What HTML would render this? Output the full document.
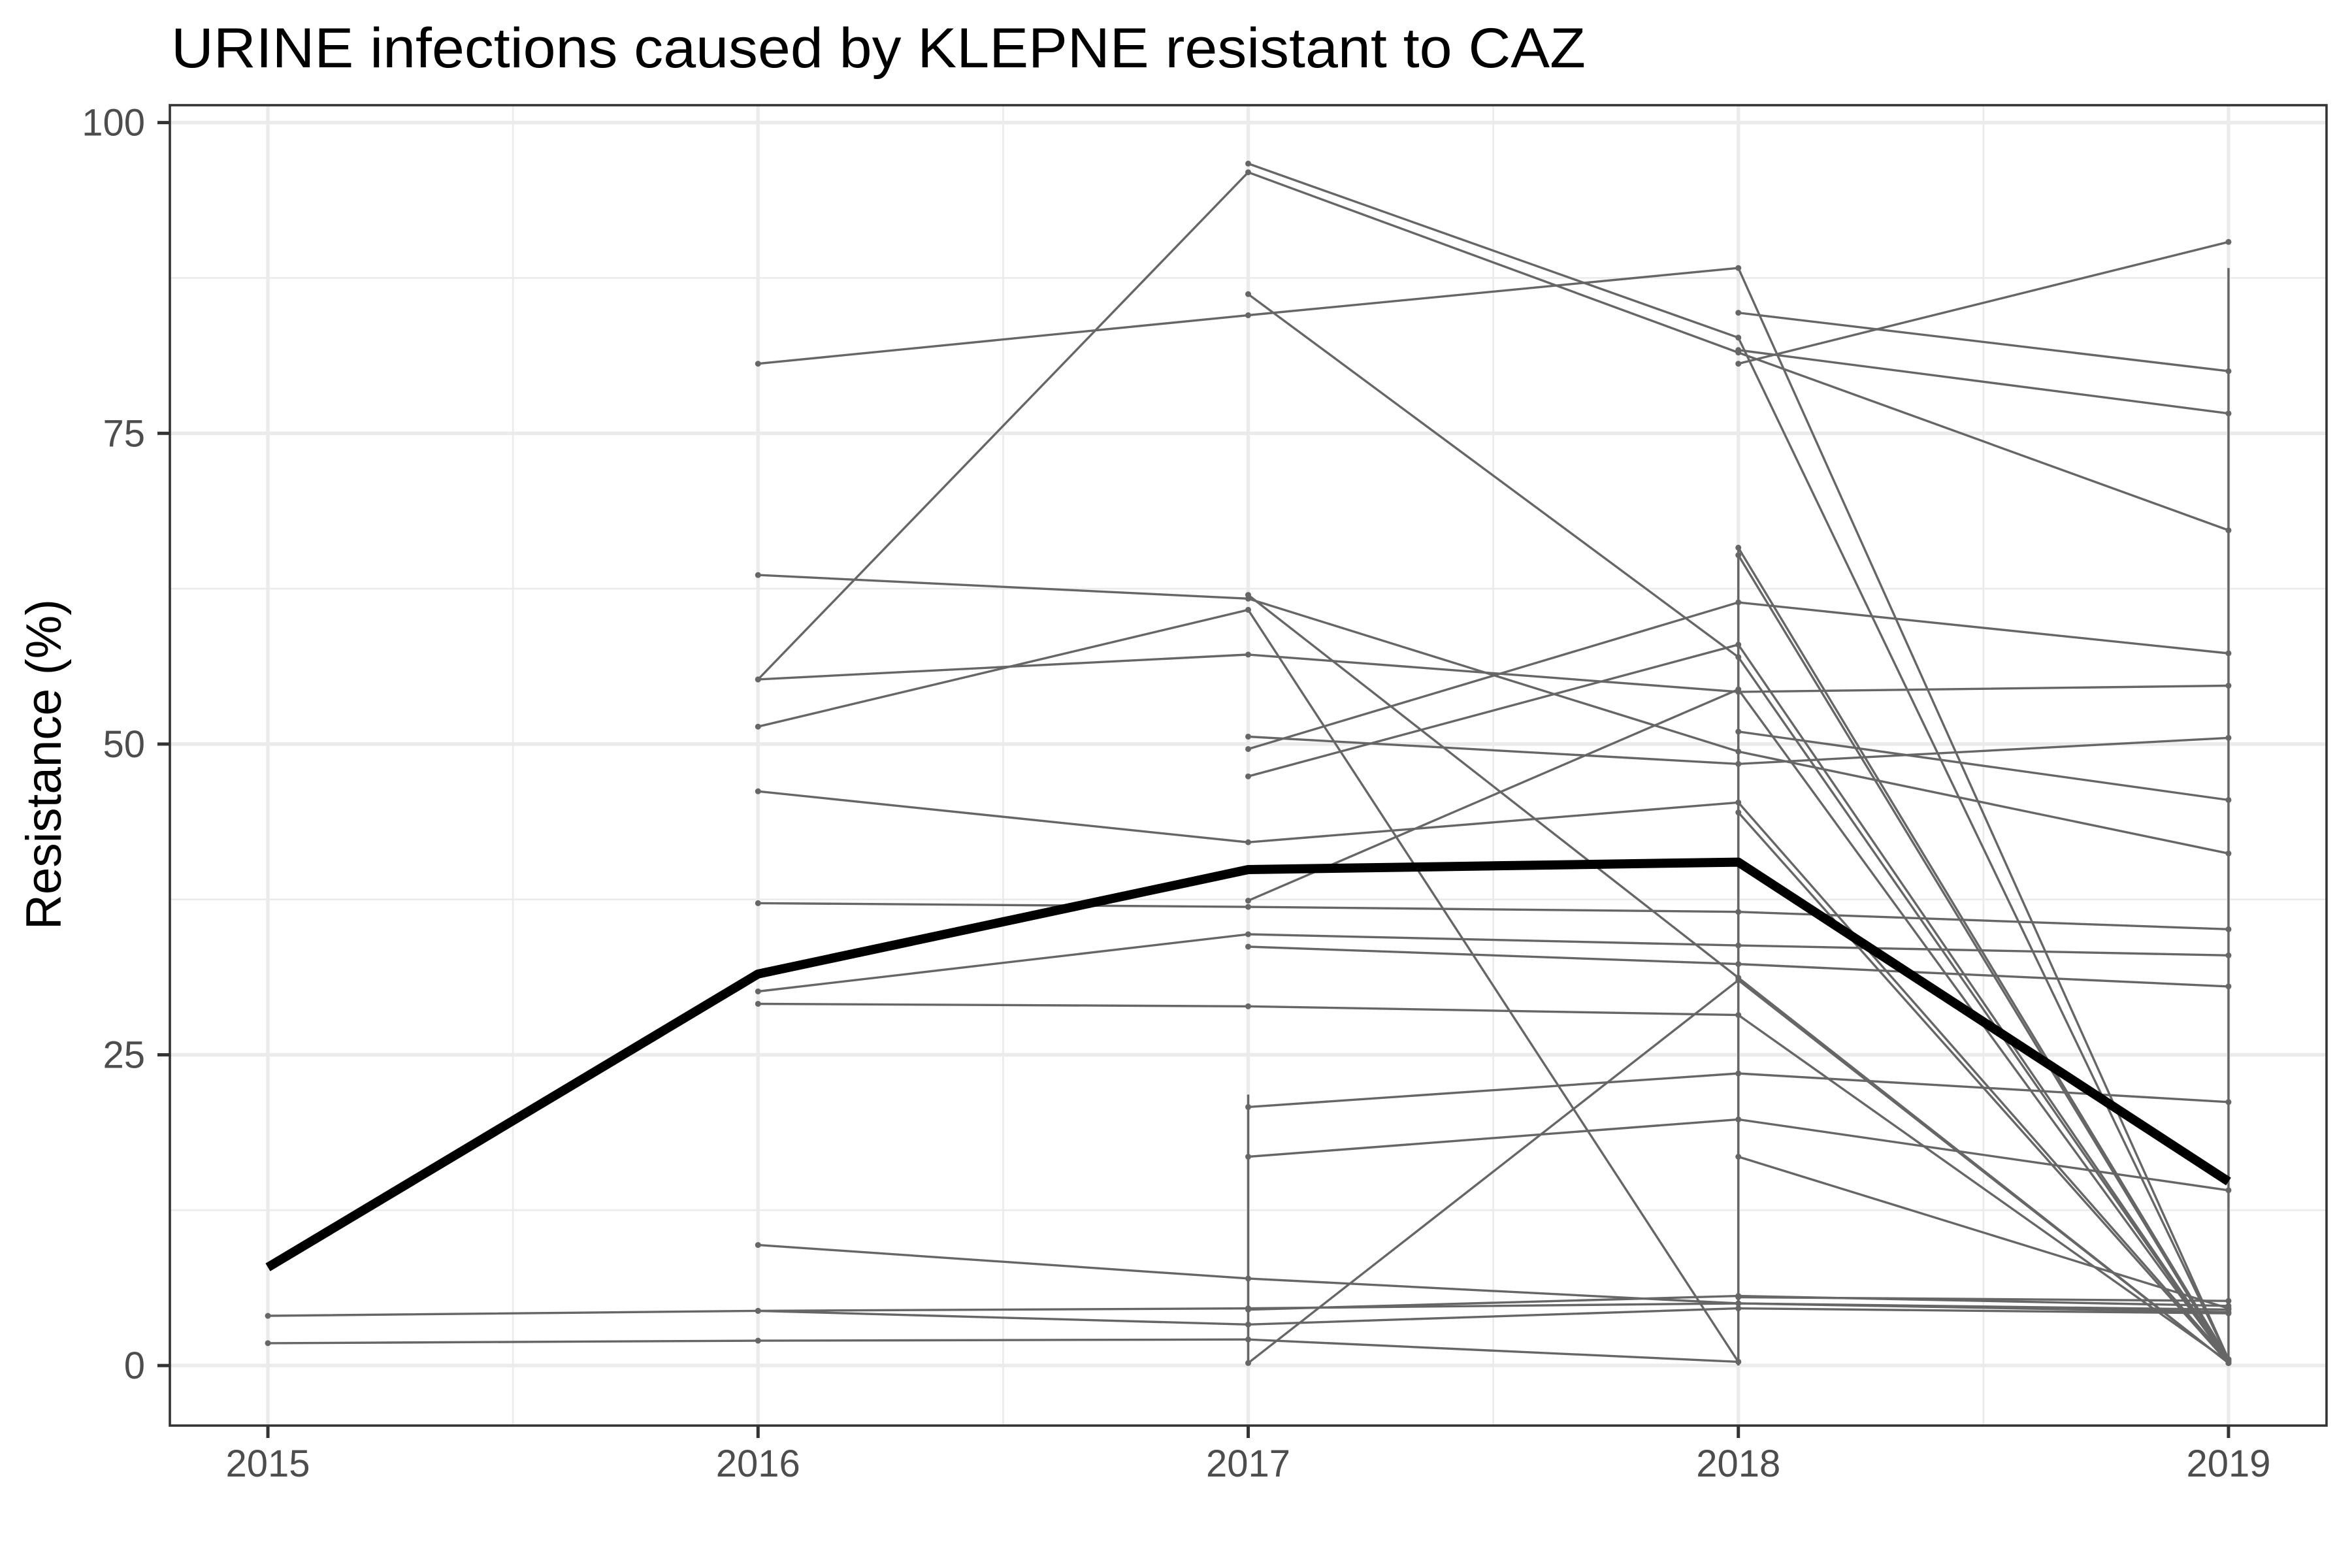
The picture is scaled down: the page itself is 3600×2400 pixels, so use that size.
<!DOCTYPE html>
<html><head><meta charset="utf-8">
<style>
html,body{margin:0;padding:0;background:#fff;}
svg{display:block;font-family:"Liberation Sans",Arial,sans-serif;}
</style></head>
<body>
<svg id="chart" width="3600" height="2400" viewBox="0 0 3600 2400" xmlns="http://www.w3.org/2000/svg">
<rect x="0" y="0" width="3600" height="2400" fill="#fff"/>
<text x="262" y="103" font-size="86" fill="#000" textLength="2165" lengthAdjust="spacingAndGlyphs">URINE infections caused by KLEPNE resistant to CAZ</text>
<text transform="translate(93,1170) rotate(-90)" text-anchor="middle" font-size="76" fill="#000" textLength="506" lengthAdjust="spacingAndGlyphs">Resistance (%)</text>
<g id="grid"></g>
<g id="series"></g>
<g id="axes"></g>
</svg>
<script>
const years = [2015, 2016, 2017, 2018, 2019];
const yTicks = [0, 25, 50, 75, 100];
const yTickLabels = ["0", "25", "50", "75", "100"];
const xTickLabels = ["2015", "2016", "2017", "2018", "2019"];
const meanValues = [7.9, 31.5, 39.9, 40.5, 14.8];
const s01 = [4.0, 4.4, 4.6, 5.0, 4.5];
const s02 = [1.8, 2.0, 2.1, 0.3, null];
const s03 = [null, 80.6, 84.5, 88.3, 0.5];
const s04 = [null, 55.2, 96.0, 81.5, 67.2];
const s05 = [null, null, 96.7, 82.7, 0.5];
const s06 = [null, null, null, 84.7, 80.0];
const s07 = [null, null, null, 80.6, 90.4];
const s08 = [null, null, null, 81.7, 76.6];
const s09 = [null, null, 86.2, 57.0, 0.3];
const s10 = [null, 63.6, 61.7, 49.4, 41.2];
const s11 = [null, 51.4, 60.8, 0.3, null];
const s12 = [null, null, 62.0, 31.2, 0.2];
const s13 = [null, 55.2, 57.2, 54.2, 54.7];
const s14 = [null, 46.2, 42.1, 45.3, 0.4];
const s15 = [null, 37.2, 36.9, 36.5, 35.1];
const s16 = [null, 30.1, 34.7, 33.8, 33.0];
const s17 = [null, 29.1, 28.9, 28.2, 0.3];
const s18 = [null, 9.7, 7.0, 5.0, 4.3];
const s19 = [null, null, 33.7, 32.3, 30.5];
const s20 = [null, null, 50.6, 48.4, 50.5];
const s21 = [null, null, 49.6, 61.4, 57.3];
const s22 = [null, null, 47.4, 58.0, 0.4];
const s23 = [null, null, 37.4, 54.4, 0.3];
const s24 = [null, null, 20.8, 23.5, 21.2];
const s25 = [null, null, 16.8, 19.8, 14.1];
const s26 = [null, null, 0.2, 31.0, 0.2];
const s27 = [null, null, null, 65.8, 0.5];
const s28 = [null, null, null, 65.2, 0.3];
const s29 = [null, null, null, 51.0, 45.5];
const s30 = [null, null, null, 44.5, 0.2];
const s31 = [null, null, null, 16.8, 4.6];
const s32 = [null, null, null, 5.5, 5.2];
const s33 = [null, 4.4, 3.3, 4.6, 4.2];
const s34 = [null, null, 4.5, 5.6, 4.8];
const greySeries = [s01,s02,s03,s04,s05,s06,s07,s08,s09,s10,s11,s12,s13,s14,s15,s16,s17,s18,s19,s20,s21,s22,s23,s24,s25,s26,s27,s28,s29,s30,s31,s32,s33,s34];
const clusterYears = [2017, 2018, 2019];
const clusterLow = [0, 0, 0];
const clusterHigh = [21.8, 66.0, 88.3];

const NS = "http://www.w3.org/2000/svg";
const PL = 260, PR = 3561, PT = 161, PB = 2182;
const xMin = 2014.8, xMax = 2019.2, yMin = -4.83, yMax = 101.4;
const GREY_W = 3.4, MEAN_W = 14;
function xs(v){ return PL + (v - xMin) / (xMax - xMin) * (PR - PL); }
function ys(v){ return PB - (v - yMin) / (yMax - yMin) * (PB - PT); }
function mk(tag, attrs, parent){ const e = document.createElementNS(NS, tag); for (const k in attrs) e.setAttribute(k, attrs[k]); parent.appendChild(e); return e; }

const grid = document.getElementById('grid');
const ser = document.getElementById('series');
const axes = document.getElementById('axes');

for (let i = 0; i < yTicks.length - 1; i++) {
  const v = (yTicks[i] + yTicks[i+1]) / 2;
  const l = mk('line', {x1:PL, x2:PR, y1:ys(v), y2:ys(v), stroke:'#EBEBEB', 'stroke-width':2.7}, grid);
  
  
}
for (let i = 0; i < years.length - 1; i++) {
  const v = (years[i] + years[i+1]) / 2;
  const l = mk('line', {x1:xs(v), x2:xs(v), y1:PT, y2:PB, stroke:'#EBEBEB', 'stroke-width':2.7}, grid);
  
  
}
yTicks.forEach(v => {
  const l = mk('line', {x1:PL, x2:PR, y1:ys(v), y2:ys(v), stroke:'#EBEBEB', 'stroke-width':5.4}, grid);
  
  
});
years.forEach(v => {
  const l = mk('line', {x1:xs(v), x2:xs(v), y1:PT, y2:PB, stroke:'#EBEBEB', 'stroke-width':5.4}, grid);
  
  
});

clusterYears.forEach((yr, i) => {
  const l = mk('line', {x1:xs(yr), x2:xs(yr), y1:ys(clusterLow[i]), y2:ys(clusterHigh[i]), stroke:'#666', 'stroke-width':GREY_W}, ser);
  
  
});

greySeries.forEach((s, si) => {
  let d = '', pen = false;
  s.forEach((v, i) => {
    if (v === null) { pen = false; return; }
    d += (pen ? 'L' : 'M') + xs(years[i]).toFixed(1) + ' ' + ys(v).toFixed(1) + ' ';
    pen = true;
  });
  const p = mk('path', {d:d, fill:'none', stroke:'#666', 'stroke-width':GREY_W, 'stroke-linejoin':'round'}, ser);
  
  
  s.forEach((v, i) => {
    if (v === null) return;
    const c = mk('circle', {cx:xs(years[i]), cy:ys(v), r:4.5, fill:'#666'}, ser);
    
    
  });
});

{
  let d = '';
  meanValues.forEach((v, i) => { d += (i ? 'L' : 'M') + xs(years[i]).toFixed(1) + ' ' + ys(v).toFixed(1) + ' '; });
  const p = mk('path', {d:d, fill:'none', stroke:'#000', 'stroke-width':MEAN_W, 'stroke-linejoin':'round'}, ser);
  
  
}

{
  const r = mk('rect', {x:PL, y:PT, width:PR-PL, height:PB-PT, fill:'none', stroke:'#333', 'stroke-width':3.6}, axes);
  
  
}
yTicks.forEach((v, i) => {
  const t = mk('line', {x1:PL-19, x2:PL, y1:ys(v), y2:ys(v), stroke:'#333', 'stroke-width':5}, axes);
  
  
  const tx = mk('text', {x:222, y:ys(v)+20, 'text-anchor':'end', 'font-size':58, fill:'#4D4D4D'}, axes);
  tx.textContent = yTickLabels[i];
  
  
});
years.forEach((v, i) => {
  const t = mk('line', {x1:xs(v), x2:xs(v), y1:PB, y2:PB+19, stroke:'#333', 'stroke-width':5}, axes);
  
  
  const tx = mk('text', {x:xs(v), y:2260, 'text-anchor':'middle', 'font-size':58, fill:'#4D4D4D'}, axes);
  tx.textContent = xTickLabels[i];
  
  
});
</script>
</body></html>
